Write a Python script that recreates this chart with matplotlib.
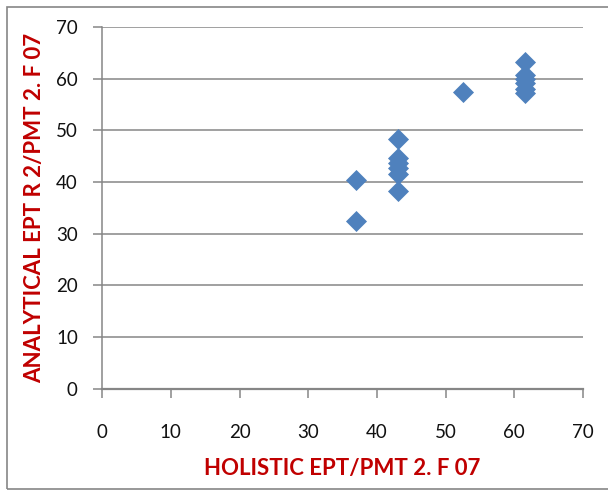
import matplotlib
matplotlib.use("Agg")
import matplotlib.pyplot as plt
from matplotlib.patches import Rectangle

# holistic vs analytical scores
holistic = [37, 37, 43, 43, 43, 43, 43, 43, 52.5, 61.5, 61.5, 61.5, 61.5, 61.5, 61.5]
analytical = [40.5, 32.4, 48.3, 44.6, 43.6, 42.7, 41.5, 38.2, 57.4,
              63.3, 60.7, 60.0, 59.1, 58.0, 57.3]

x_ticks = [0, 10, 20, 30, 40, 50, 60, 70]
y_ticks = [0, 10, 20, 30, 40, 50, 60, 70]
x_title = "HOLISTIC EPT/PMT 2. F 07"
y_title = "ANALYTICAL EPT R 2/PMT 2. F 07"

plt.rcParams['font.family'] = ['Lato', 'DejaVu Sans']

fig = plt.figure(figsize=(6.08, 4.91), dpi=100)
ax = fig.add_axes([0.168, 0.208, 0.791, 0.737])

ax.scatter(holistic, analytical, marker='D', s=115, color='#4F81BD', zorder=3, linewidths=0)

ax.set_xlim(0, 70)
ax.set_ylim(0, 70)
ax.set_xticks(x_ticks)
ax.set_yticks(y_ticks)

ax.yaxis.grid(True, color='#868686', linewidth=1.1)
ax.set_axisbelow(True)
for side in ['top', 'right']:
    ax.spines[side].set_visible(False)
for side in ['left', 'bottom']:
    ax.spines[side].set_color('#868686')
ax.spines['bottom'].set_linewidth(1.6)
ax.spines['left'].set_linewidth(1.1)

ax.tick_params(axis='both', direction='out', length=6.5, color='#868686', width=1.1,
               labelsize=13.5, labelcolor='#111111')
ax.tick_params(axis='x', pad=19)
ax.tick_params(axis='y', pad=11)

ax.set_xlabel(x_title, fontsize=16, fontweight='bold', color='#C00000', labelpad=12)
ax.set_ylabel(y_title, fontsize=16, fontweight='bold', color='#C00000', labelpad=8)

# outer chart border
fig.patches.append(Rectangle((7 / 608, 2 / 491), 1.2, 482 / 491, transform=fig.transFigure,
                             fill=False, edgecolor='#868686', linewidth=1.2))

fig.savefig("out.png", dpi=100)
